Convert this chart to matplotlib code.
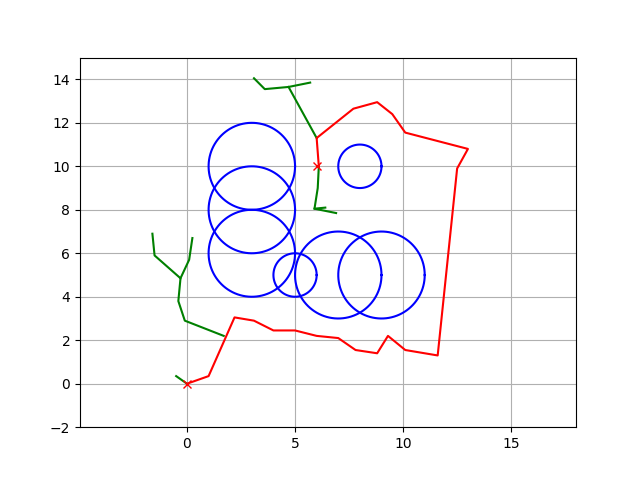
import numpy as np
import matplotlib
matplotlib.use("Agg")
import matplotlib.pyplot as plt

obstacles = [(5, 5, 1), (3, 6, 2), (3, 8, 2), (3, 10, 2), (7, 5, 2), (9, 5, 2), (8, 10, 1)]
start = (0, 0)
goal = (6, 10)
tree_branches = [
    [(0, 0), (-0.5, 0.35)],
    [(1.7, 2.2), (-0.1, 2.9), (-0.4, 3.8), (-0.3, 4.85), (-1.5, 5.9), (-1.6, 6.9)],
    [(-0.3, 4.85), (0.1, 5.7), (0.25, 6.7)],
    [(6, 11.3), (4.7, 13.65)],
    [(3.1, 14.05), (3.6, 13.55), (4.7, 13.65), (5.7, 13.85)],
    [(6.1, 10), (6.05, 9), (5.9, 8.05), (6.9, 7.85)],
    [(5.9, 8.05), (6.4, 8.1)],
]
path_x = [0, 1, 2.2, 3.1, 4, 5, 6, 7, 7.8, 8.8, 9.3, 10.1, 11.6, 12.5, 13, 10.1, 9.5, 8.8, 7.7, 6, 6.1]
path_y = [0, 0.35, 3.05, 2.9, 2.45, 2.45, 2.2, 2.1, 1.55, 1.4, 2.2, 1.55, 1.3, 9.9, 10.8, 11.55, 12.4, 12.95, 12.65, 11.3, 10]

fig, ax = plt.subplots(figsize=(6.4, 4.8), dpi=100)
for br in tree_branches:
    xs, ys = zip(*br)
    ax.plot(xs, ys, "-g")
t = np.linspace(0, 2 * np.pi, 100)
for (ox, oy, r) in obstacles:
    ax.plot(ox + r * np.cos(t), oy + r * np.sin(t), "-b")
ax.plot(path_x, path_y, "-r")
ax.plot(start[0], start[1], "xr")
ax.plot(goal[0], goal[1], "xr")
ax.set_xlim(-4.95, 18.0)
ax.set_ylim(-2, 15)
ax.set_xticks([0, 5, 10, 15])
ax.set_yticks(range(-2, 15, 2))
ax.grid(True)
fig.savefig("out.png")
